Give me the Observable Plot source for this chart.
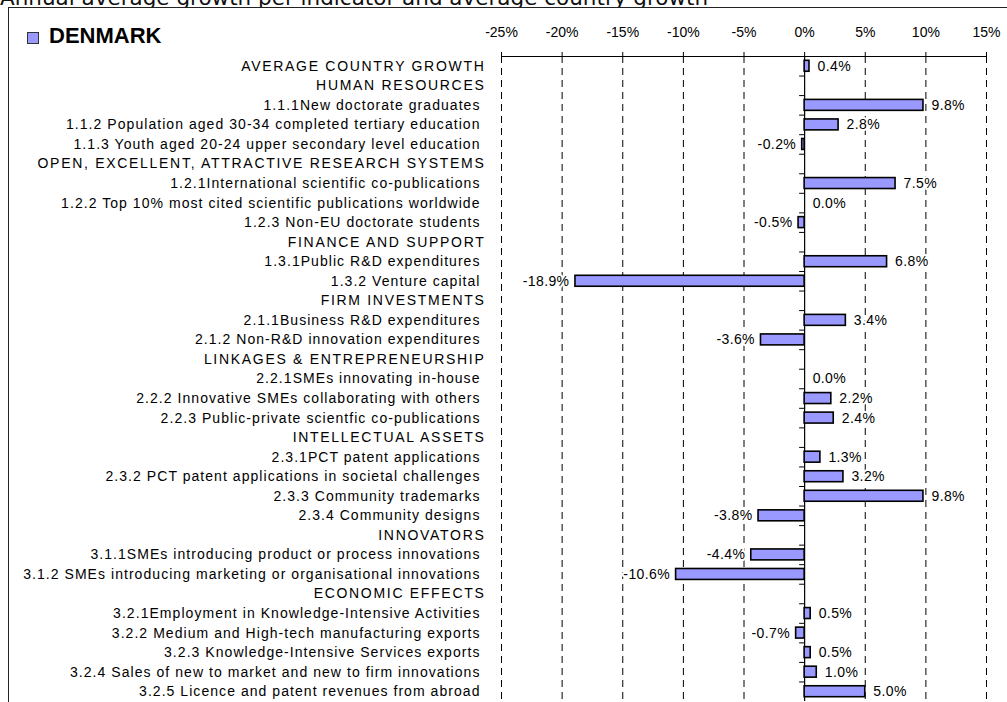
<!DOCTYPE html>
<html><head><meta charset="utf-8">
<script src="https://cdn.jsdelivr.net/npm/d3@7"></script>
<script src="https://cdn.jsdelivr.net/npm/@observablehq/plot@0.6"></script>
<style>
html,body{margin:0;padding:0;background:#fff;}
#wrap{position:relative;width:1007px;height:702px;overflow:hidden;}
#title{position:absolute;left:0;top:0;}
#box{position:absolute;left:7.5px;top:6.5px;width:1010px;height:710px;border-top:1.5px solid #222;border-left:1.5px solid #222;box-sizing:border-box;}
#sw{position:absolute;left:27px;top:32px;width:12px;height:12px;background:#9999ff;border:1px solid #333;box-sizing:border-box;}
#lg{position:absolute;left:49px;top:24.5px;font:bold 22px "Liberation Sans",Arial,sans-serif;line-height:1;}
#chart{position:absolute;left:0;top:0;}
</style></head>
<body>
<div id="wrap">
  <svg id="title" width="1007" height="8"><text x="0" y="4.5" font-family="DejaVu Sans" font-size="21.5" fill="#111">Annual average growth per indicator and average country growth</text></svg>
  <div id="box"></div>
  <div id="chart"></div>
  <div id="sw"></div>
  <div id="lg">DENMARK</div>
</div>
<script>
const labels = [
  "AVERAGE COUNTRY GROWTH",
  "HUMAN RESOURCES",
  "1.1.1New doctorate graduates",
  "1.1.2 Population aged 30-34 completed tertiary education",
  "1.1.3 Youth aged 20-24 upper secondary level education",
  "OPEN, EXCELLENT, ATTRACTIVE RESEARCH SYSTEMS",
  "1.2.1International scientific co-publications",
  "1.2.2 Top 10% most cited scientific publications worldwide",
  "1.2.3 Non-EU doctorate students",
  "FINANCE AND SUPPORT",
  "1.3.1Public R&D expenditures",
  "1.3.2 Venture capital",
  "FIRM INVESTMENTS",
  "2.1.1Business R&D expenditures",
  "2.1.2 Non-R&D innovation expenditures",
  "LINKAGES & ENTREPRENEURSHIP",
  "2.2.1SMEs innovating in-house",
  "2.2.2 Innovative SMEs collaborating with others",
  "2.2.3 Public-private scientfic co-publications",
  "INTELLECTUAL ASSETS",
  "2.3.1PCT patent applications",
  "2.3.2 PCT patent applications in societal challenges",
  "2.3.3 Community trademarks",
  "2.3.4 Community designs",
  "INNOVATORS",
  "3.1.1SMEs introducing product or process innovations",
  "3.1.2 SMEs introducing marketing or organisational innovations",
  "ECONOMIC EFFECTS",
  "3.2.1Employment in Knowledge-Intensive Activities",
  "3.2.2 Medium and High-tech manufacturing exports",
  "3.2.3 Knowledge-Intensive Services exports",
  "3.2.4 Sales of new to market and new to firm innovations",
  "3.2.5 Licence and patent revenues from abroad"
];
const values = [0.4, null, 9.8, 2.8, -0.2, null, 7.5, 0.0, -0.5, null, 6.8, -18.9, null, 3.4, -3.6, null,
  0.0, 2.2, 2.4, null, 1.3, 3.2, 9.8, -3.8, null, -4.4, -10.6, null, 0.5, -0.7, 0.5, 1.0, 5.0];
const headerRows = ["AVERAGE COUNTRY GROWTH", "HUMAN RESOURCES", "OPEN, EXCELLENT, ATTRACTIVE RESEARCH SYSTEMS",
  "FINANCE AND SUPPORT", "FIRM INVESTMENTS", "LINKAGES & ENTREPRENEURSHIP", "INTELLECTUAL ASSETS", "INNOVATORS", "ECONOMIC EFFECTS"];
const xTicks = [-25, -20, -15, -10, -5, 0, 5, 10, 15];

const W = 1007, H = 702, mT = 56, mB = 1, mL = 501, mR = 21;
const step = (H - mT - mB) / labels.length;
const pxPerUnit = (W - mL - mR) / (xTicks[xTicks.length - 1] - xTicks[0]);
const tickLen = 5 / pxPerUnit;

const rows = labels.map((label, i) => ({label, value: values[i]}));
const withVal = rows.filter(d => d.value !== null);
const barsData = withVal.filter(d => d.value !== 0);
const pos = withVal.filter(d => d.value >= 0);
const neg = withVal.filter(d => d.value < 0);
const heads = labels.filter(l => headerRows.includes(l));
const items = labels.filter(l => !headerRows.includes(l));
const fmt = d => d.value.toFixed(1) + "%";

const chart = Plot.plot({
  width: W, height: H,
  marginTop: mT, marginBottom: mB, marginLeft: mL, marginRight: mR,
  x: {domain: [xTicks[0], xTicks[xTicks.length - 1]]},
  y: {domain: labels, padding: 0, round: false, axis: null},
  style: {fontFamily: "'Liberation Sans', Arial, sans-serif", background: "transparent", color: "#000"},
  marks: [
    Plot.ruleX(xTicks.filter(t => t !== 0), {stroke: "#000", strokeWidth: 1, strokeDasharray: "7,5"}),
    Plot.ruleY([labels[0]], {dy: -step / 2, stroke: "#000", strokeWidth: 1}),
    Plot.axisX({anchor: "top", ticks: xTicks, tickFormat: d => d + "%", tickSize: 5, tickPadding: 15, fontSize: 14, label: null, stroke: "#000"}),
    Plot.ruleX([0], {stroke: "#000", strokeWidth: 1.2}),
    Plot.ruleY(labels.slice(1), {x1: 0, x2: -tickLen, dy: -step / 2, stroke: "#000", strokeWidth: 1}),
    Plot.barX(barsData, {x: "value", y: "label", fill: "#9999ff", stroke: "#000", strokeWidth: 1.6, insetTop: 4.3, insetBottom: 4.3}),
    Plot.text(pos, {x: "value", y: "label", text: fmt, textAnchor: "start", dx: 8, fontSize: 14, fill: "#000", stroke: "#fff", strokeWidth: 4, paintOrder: "stroke"}),
    Plot.text(neg, {x: "value", y: "label", text: fmt, textAnchor: "end", dx: -6, fontSize: 14, fill: "#000", stroke: "#fff", strokeWidth: 4, paintOrder: "stroke"}),
    Plot.text(heads, {y: d => d, text: d => d, frameAnchor: "left", textAnchor: "end", dx: -16, fontSize: 14, fill: "#000"}),
    Plot.text(items, {y: d => d, text: d => d, frameAnchor: "left", textAnchor: "end", dx: -21, fontSize: 14, fill: "#000"})
  ]
});
// letter spacing per text group (header labels are wider-spaced in the original)
const textGroups = chart.querySelectorAll("g[aria-label='text']");
if (textGroups.length === 4) {
  textGroups[0].style.letterSpacing = "0.4px";
  textGroups[1].style.letterSpacing = "0.4px";
  textGroups[2].style.letterSpacing = "1.7px";
  textGroups[3].style.letterSpacing = "1.05px";
}
document.getElementById("chart").appendChild(chart);
</script>
</body></html>
